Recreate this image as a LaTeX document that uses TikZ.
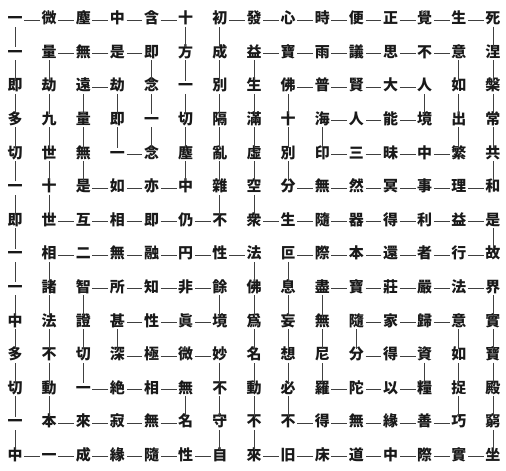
\documentclass[tikz,border=0pt]{standalone}
\usepackage{fontspec}
\newfontfamily\cjk{Noto Sans CJK JP}
\begin{document}
\begin{tikzpicture}[x=1bp,y=-1bp,
  ch/.style={inner sep=1.5bp, text height=0.88em, text depth=0.12em,
             font=\cjk\bfseries\fontsize{15}{15}\selectfont, text=black!90},
  link/.style={line width=0.7bp, black!75}]
\useasboundingbox (0,0) rectangle (506,471);
\fill[white] (0,0) rectangle (506,471);
\foreach \row [count=\r from 0] in {
  {一,微,塵,中,含,十,初,發,心,時,便,正,覺,生,死},
  {一,量,無,是,即,方,成,益,寶,雨,議,思,不,意,涅},
  {即,劫,遠,劫,念,一,別,生,佛,普,賢,大,人,如,槃},
  {多,九,量,即,一,切,隔,滿,十,海,人,能,境,出,常},
  {切,世,無,一,念,塵,亂,虛,別,印,三,昧,中,繁,共},
  {一,十,是,如,亦,中,雜,空,分,無,然,冥,事,理,和},
  {即,世,互,相,即,仍,不,衆,生,隨,器,得,利,益,是},
  {一,相,二,無,融,円,性,法,叵,際,本,還,者,行,故},
  {一,諸,智,所,知,非,餘,佛,息,盡,寶,莊,嚴,法,界},
  {中,法,證,甚,性,眞,境,爲,妄,無,隨,家,歸,意,實},
  {多,不,切,深,極,微,妙,名,想,尼,分,得,資,如,寶},
  {切,動,一,絶,相,無,不,動,必,羅,陀,以,糧,捉,殿},
  {一,本,來,寂,無,名,守,不,不,得,無,緣,善,巧,窮},
  {中,一,成,緣,隨,性,自,來,旧,床,道,中,際,實,坐}} {
  \foreach \c [count=\k from 0] in \row {
    \node[ch] (n-\r-\k) at ({15+\k*34.14},{20+\r*33.6}) {\c};
  }
}
\foreach \p [remember=\p as \q (initially 7-7)] in {
  7-6,7-5,7-4,7-3,7-2,7-1,
  8-1,9-1,10-1,11-1,12-1,12-2,12-3,
  12-4,12-5,11-5,11-4,11-3,11-2,10-2,
  9-2,8-2,8-3,8-4,8-5,8-6,9-6,
  9-5,9-4,9-3,10-3,10-4,10-5,10-6,
  11-6,12-6,13-6,13-5,13-4,13-3,13-2,
  13-1,13-0,12-0,11-0,10-0,9-0,8-0,
  7-0,6-0,5-0,4-0,3-0,2-0,1-0,
  0-0,0-1,0-2,0-3,0-4,0-5,1-5,
  2-5,3-5,4-5,5-5,5-4,5-3,5-2,
  4-2,3-2,2-2,2-3,3-3,4-3,4-4,
  3-4,2-4,1-4,1-3,1-2,1-1,2-1,
  3-1,4-1,5-1,6-1,6-2,6-3,6-4,
  6-5,6-6,5-6,4-6,3-6,2-6,1-6,
  0-6,0-7,0-8,0-9,0-10,0-11,0-12,
  0-13,0-14,1-14,2-14,3-14,4-14,5-14,
  5-13,5-12,5-11,5-10,5-9,5-8,4-8,
  3-8,2-8,2-9,2-10,2-11,2-12,3-12,
  3-11,3-10,3-9,4-9,4-10,4-11,4-12,
  4-13,3-13,2-13,1-13,1-12,1-11,1-10,
  1-9,1-8,1-7,2-7,3-7,4-7,5-7,
  6-7,6-8,6-9,6-10,6-11,6-12,6-13,
  6-14,7-14,7-13,7-12,7-11,7-10,7-9,
  7-8,8-8,9-8,10-8,11-8,12-8,12-9,
  12-10,12-11,12-12,12-13,11-13,10-13,9-13,
  9-12,9-11,9-10,10-10,10-11,10-12,11-12,
  11-11,11-10,11-9,10-9,9-9,8-9,8-10,
  8-11,8-12,8-13,8-14,9-14,10-14,11-14,
  12-14,13-14,13-13,13-12,13-11,13-10,13-9,
  13-8,13-7,12-7,11-7,10-7,9-7,8-7,
  7-7} {
  \draw[link] (n-\q) -- (n-\p);
}
\end{tikzpicture}
\end{document}
